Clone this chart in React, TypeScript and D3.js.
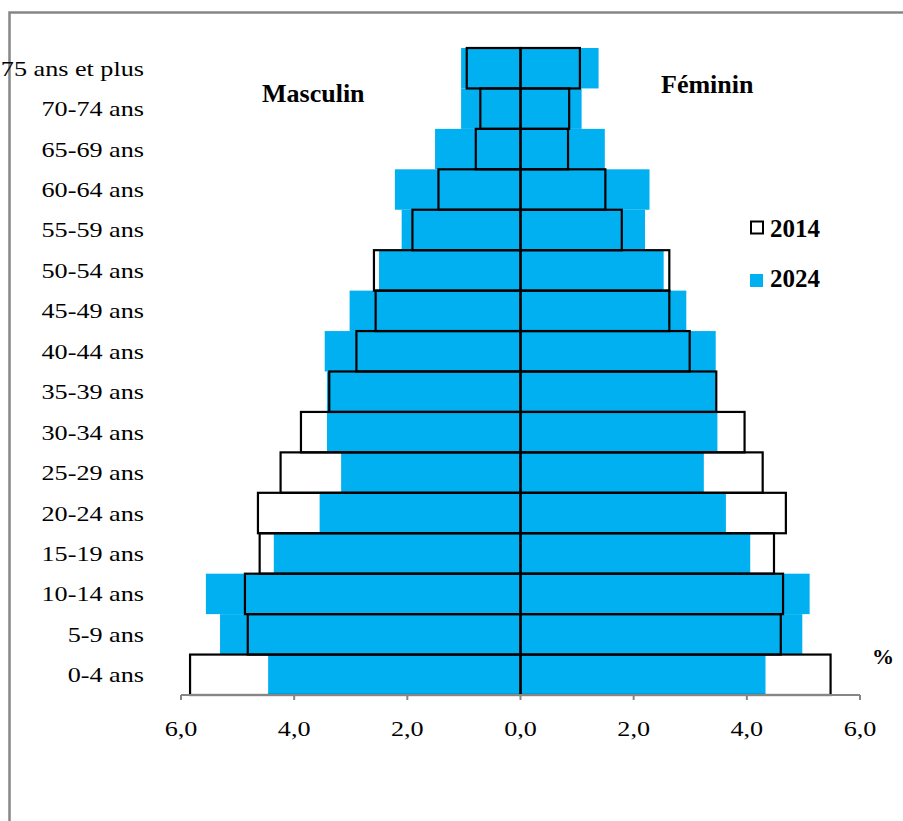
import React from "react";
import * as d3 from "d3";

const categories = [
  "75 ans et plus", "70-74 ans", "65-69 ans", "60-64 ans", "55-59 ans", "50-54 ans",
  "45-49 ans", "40-44 ans", "35-39 ans", "30-34 ans", "25-29 ans", "20-24 ans",
  "15-19 ans", "10-14 ans", "5-9 ans", "0-4 ans",
];
const male2014 = [0.95, 0.71, 0.79, 1.45, 1.91, 2.59, 2.56, 2.9, 3.38, 3.88, 4.24, 4.64, 4.61, 4.87, 4.82, 5.84];
const male2024 = [1.05, 1.05, 1.51, 2.22, 2.1, 2.5, 3.02, 3.46, 3.42, 3.42, 3.17, 3.55, 4.36, 5.56, 5.31, 4.46];
const female2014 = [1.05, 0.86, 0.84, 1.5, 1.79, 2.63, 2.63, 2.99, 3.46, 3.96, 4.28, 4.69, 4.48, 4.64, 4.6, 5.48];
const female2024 = [1.38, 1.08, 1.49, 2.28, 2.2, 2.53, 2.93, 3.45, 3.45, 3.48, 3.24, 3.63, 4.06, 5.11, 4.98, 4.33];
const xTicks = [-6, -4, -2, 0, 2, 4, 6];
const seriesNames = ["2014", "2024"];

const BLUE = "#00B0F0";
const GREY = "#868686";
const FONT = "'Liberation Serif', 'Times New Roman', serif";

export default function App() {
  const W = 903, H = 821;
  const x = d3.scaleLinear().domain([-6, 6]).range([181, 860]);
  const y = d3.scaleBand<string>().domain(categories).range([48, 695]).padding(0);
  const bw = y.bandwidth();
  const fmt = (d: number) => Math.abs(d).toFixed(1).replace(".", ",");
  const axisY = 695;

  return (
    <div style={{ position: "absolute", left: 0, top: 0 }}>
      <svg width={W} height={H} style={{ display: "block", background: "#fff" }}>
        <rect x={9.5} y={12.5} width={W + 20} height={H + 20} fill="#fff" stroke={GREY} strokeWidth={2.5} />

        {/* 2024 filled bars */}
        {categories.map((c, i) => (
          <g key={"b" + c}>
            <rect x={x(-male2024[i])} y={y(c)} width={x(0) - x(-male2024[i])} height={bw} fill={BLUE} />
            <rect x={x(0)} y={y(c)} width={x(female2024[i]) - x(0)} height={bw} fill={BLUE} />
          </g>
        ))}
        {/* 2014 outline bars */}
        {categories.map((c, i) => (
          <g key={"o" + c} fill="none" stroke="#000" strokeWidth={2.2}>
            <rect x={x(-male2014[i])} y={y(c)} width={x(0) - x(-male2014[i])} height={bw} />
            <rect x={x(0)} y={y(c)} width={x(female2014[i]) - x(0)} height={bw} />
          </g>
        ))}

        {/* x axis */}
        <line x1={x(-6)} x2={x(6)} y1={axisY} y2={axisY} stroke={GREY} strokeWidth={2} />
        {xTicks.map((t) => (
          <g key={"t" + t}>
            <line x1={x(t)} x2={x(t)} y1={axisY} y2={axisY + 5} stroke={GREY} strokeWidth={2} />
            <g transform={`translate(${x(t)},${736}) scale(1.19,1)`}>
              <text textAnchor="middle" fontFamily={FONT} fontSize={22} fill="#000">{fmt(t)}</text>
            </g>
          </g>
        ))}

        {/* category labels */}
        {categories.map((c) => (
          <g key={"l" + c} transform={`translate(144,${(y(c) as number) + bw / 2 + 7.5}) scale(1.19,1)`}>
            <text textAnchor="end" fontFamily={FONT} fontSize={22} fill="#000">{c}</text>
          </g>
        ))}

        <text x={262} y={102} fontFamily={FONT} fontSize={26} fontWeight="bold">Masculin</text>
        <text x={661} y={93} fontFamily={FONT} fontSize={26} fontWeight="bold">Féminin</text>

        {/* legend */}
        <rect x={751} y={221.5} width={12} height={12} fill="#fff" stroke="#000" strokeWidth={2} />
        <text x={770} y={237} fontFamily={FONT} fontSize={25} fontWeight="bold">{seriesNames[0]}</text>
        <rect x={750} y={274} width={13} height={13} fill={BLUE} />
        <text x={770} y={287} fontFamily={FONT} fontSize={25} fontWeight="bold">{seriesNames[1]}</text>

        <text x={872} y={664} fontFamily={FONT} fontSize={22} fontWeight="bold">%</text>
      </svg>
    </div>
  );
}
